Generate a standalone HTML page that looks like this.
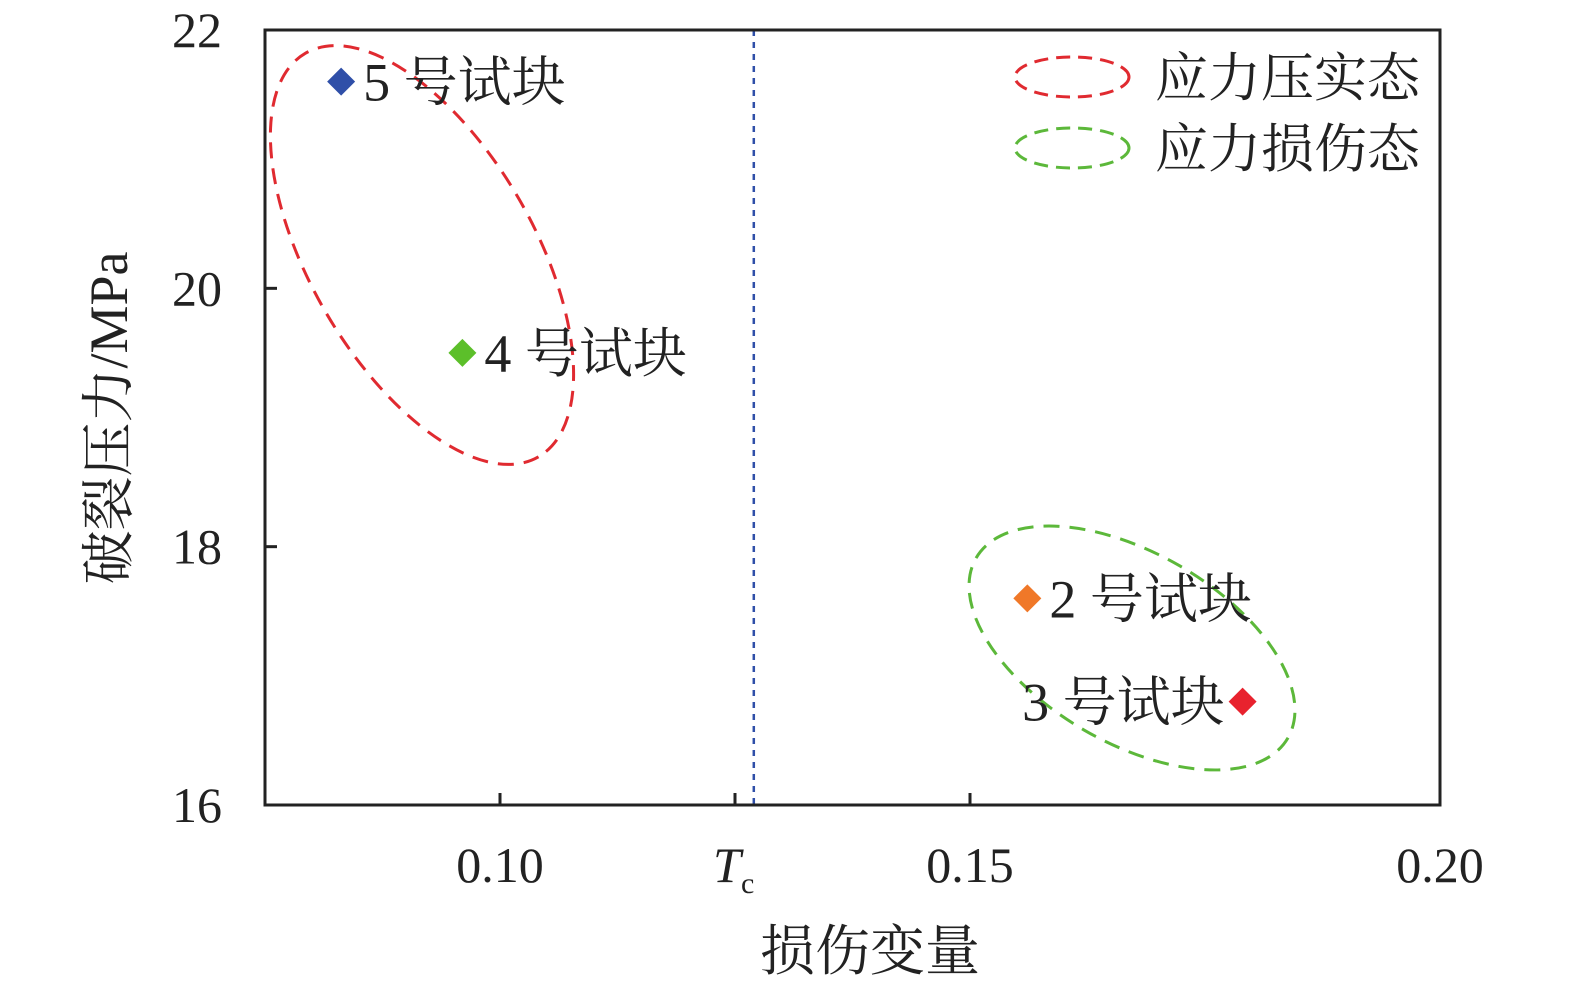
<!DOCTYPE html>
<html><head><meta charset="utf-8"><style>
body{margin:0;background:#fff}
svg{display:block}
text{font-family:"Liberation Serif","Noto Serif CJK SC",serif;fill:#222}
</style></head><body>
<svg id="chart" width="1575" height="981" xmlns="http://www.w3.org/2000/svg">
<g id="g"></g>
</svg>
<script>
const xTicks=[0.10,0.15,0.20];
const xTickLabels=["0.10","0.15","0.20"];
const yTicks=[16,18,20,22];
const yTickLabels=["16","18","20","22"];
const tcValue=0.125;
const tcLine=0.127;
const pointNames=["5 号试块","4 号试块","2 号试块","3 号试块"];
const pointX=[0.0831,0.096,0.1561,0.179];
const pointY=[21.6,19.5,17.6,16.8];
const pointColors=["#2f4fa8","#5cbf2a","#f07828","#e8222e"];
const NS="http://www.w3.org/2000/svg";
const L=265,R=1440,T=30,B=805,x0=0.075,x1=0.20,y0=16,y1=22;
const sx=v=>L+(v-x0)/(x1-x0)*(R-L);
const sy=v=>B-(v-y0)/(y1-y0)*(B-T);
const g=document.getElementById('g');
function mk(tag,at,txt){const e=document.createElementNS(NS,tag);for(const k in at)e.setAttribute(k,at[k]);if(txt!=null)e.textContent=txt;g.appendChild(e);return e;}
let e=mk('ellipse',{cx:422,cy:255,rx:233,ry:112,transform:'rotate(60 422 255)',fill:'none',stroke:'#e02a30','stroke-width':3,'stroke-dasharray':'16 10'});


e=mk('ellipse',{cx:1132,cy:648,rx:180,ry:95,transform:'rotate(30 1132 648)',fill:'none',stroke:'#5cb83a','stroke-width':3,'stroke-dasharray':'16 10'});


e=mk('line',{x1:sx(tcLine),x2:sx(tcLine),y1:T,y2:B,stroke:'#2f4fa8','stroke-width':2.5,'stroke-dasharray':'6 6'});


e=mk('rect',{x:L,y:T,width:R-L,height:B-T,fill:'none',stroke:'#222','stroke-width':3});


xTicks.forEach((v,i)=>{
 let t=mk('line',{x1:sx(v),x2:sx(v),y1:B,y2:B-12,stroke:'#222','stroke-width':3});
 
 
 let l=mk('text',{x:sx(v),y:882,'text-anchor':'middle','font-size':50},xTickLabels[i]);
 
 
});
let t=mk('line',{x1:sx(tcValue),x2:sx(tcValue),y1:B,y2:B-12,stroke:'#222','stroke-width':3});


let tl=mk('text',{x:sx(tcValue)-22,y:882,'font-size':50,'font-style':'italic'},'T');


let ts=mk('text',{x:sx(tcValue)+6,y:893,'font-size':30},'c');


yTicks.forEach((v,i)=>{
 let t=mk('line',{x1:L,x2:L+12,y1:sy(v),y2:sy(v),stroke:'#222','stroke-width':3});
 
 
 let l=mk('text',{x:222,y:sy(v)+17,'text-anchor':'end','font-size':50},yTickLabels[i]);
 
 
});
pointX.forEach((v,i)=>{
 const cx=sx(v),cy=sy(pointY[i]),s=14;
 let p=mk('polygon',{points:`${cx},${cy-s} ${cx+s},${cy} ${cx},${cy+s} ${cx-s},${cy}`,fill:pointColors[i]});
 
 
 const left=i===3;
 let l=mk('text',{x:left?cx-18:cx+22,y:cy+19,'text-anchor':left?'end':'start','font-size':54},pointNames[i]);
 
 
});
[["#e02a30","应力压实态",77],["#5cb83a","应力损伤态",148]].forEach(d=>{
 let el=mk('ellipse',{cx:1072,cy:d[2],rx:57,ry:20,fill:'none',stroke:d[0],'stroke-width':3,'stroke-dasharray':'14 8'});
 
 
 let lt=mk('text',{x:1155,y:d[2]+19,'font-size':53},d[1]);
 
 
});
let xt=mk('text',{x:870,y:970,'text-anchor':'middle','font-size':55},'损伤变量');


let yt=mk('text',{x:0,y:0,transform:'translate(127,418) rotate(-90)','text-anchor':'middle','font-size':54},'破裂压力/MPa');


</script>
</body></html>
